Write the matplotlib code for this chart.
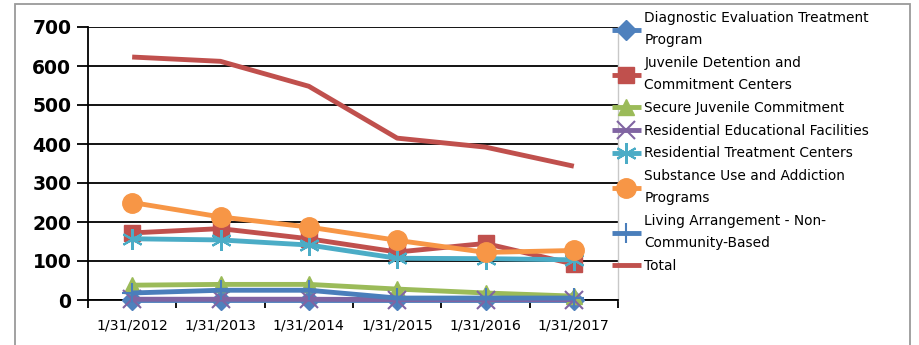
import matplotlib
matplotlib.use("Agg")
import matplotlib.pyplot as plt
from matplotlib.patches import Rectangle
import numpy as np

dates = ["1/31/2012", "1/31/2013", "1/31/2014", "1/31/2015", "1/31/2016", "1/31/2017"]

diagnostic_eval = [0, 0, 0, 0, 0, 0]
juvenile_detention = [172, 183, 157, 123, 145, 92]
secure_juvenile = [38, 40, 40, 28, 18, 10]
residential_educational = [2, 2, 2, 1, 1, 1]
residential_treatment = [157, 154, 141, 107, 106, 103]
substance_use = [250, 213, 187, 153, 122, 127]
living_arrangement = [18, 25, 25, 5, 5, 5]
total = [623, 612, 548, 415, 392, 343]

labels = [
    "Diagnostic Evaluation Treatment\nProgram",
    "Juvenile Detention and\nCommitment Centers",
    "Secure Juvenile Commitment",
    "Residential Educational Facilities",
    "Residential Treatment Centers",
    "Substance Use and Addiction\nPrograms",
    "Living Arrangement - Non-\nCommunity-Based",
    "Total",
]
series = [diagnostic_eval, juvenile_detention, secure_juvenile, residential_educational,
          residential_treatment, substance_use, living_arrangement, total]
colors = ["#4f81bd", "#c0504d", "#9bbb59", "#8064a2", "#4bacc6", "#f79646", "#4a7ebb", "#c0504d"]
markers = ["D", "s", "^", "x", (6, 2, 0), "o", "+", None]
msizes = [10, 12, 12, 13, 15, 14, 15, 0]

fig = plt.figure(figsize=(9.19, 3.45), dpi=100)
fig.patch.set_facecolor("white")

# outer chart border (open at the bottom edge)
fig.add_artist(Rectangle((15 / 919, -0.2), (910 - 15) / 919, 1.2 - 4 / 345,
                         transform=fig.transFigure, fill=False,
                         edgecolor="#9a9a9a", linewidth=1.3))

ax = fig.add_axes([88 / 919, 1 - 300 / 345, (618 - 88) / 919, (300 - 27) / 345])
x = np.arange(len(dates))

handles = []
for vals, lab, c, m, ms in zip(series, labels, colors, markers, msizes):
    ln, = ax.plot(x, vals, color=c, linewidth=3.5, marker=m, markersize=ms,
                  markeredgewidth=1.5 if m in ("x", "+", (6, 2, 0)) else 1.0,
                  markeredgecolor=c, markerfacecolor=c, solid_capstyle="butt",
                  zorder=3, clip_on=False)
    handles.append(ln)

ax.set_xlim(-0.5, len(dates) - 0.5)
ax.set_ylim(0, 700)
ax.set_yticks(np.arange(0, 701, 100))
ax.grid(axis="y", color="black", linewidth=1.3)
ax.set_axisbelow(True)

ax.set_xticks(x)
ax.set_xticklabels(dates, fontsize=10.2, family="DejaVu Sans")
ax.set_xticks(np.arange(-0.5, len(dates), 1.0), minor=True)
ax.tick_params(axis="x", which="major", length=0, pad=13)
ax.tick_params(axis="x", which="minor", length=6, width=1.3, color="black", direction="out")
ax.tick_params(axis="y", length=8, width=1.3, direction="out", pad=4, labelsize=13.5)
for t in ax.get_yticklabels():
    t.set_fontweight("bold")
    t.set_family("DejaVu Sans")

for s in ["left", "bottom"]:
    ax.spines[s].set_color("black")
    ax.spines[s].set_linewidth(1.3)
ax.spines["top"].set_visible(False)
ax.spines["right"].set_color("#c8c8c8")
ax.spines["right"].set_linewidth(1.0)

leg = fig.legend(handles, labels, loc="upper left", bbox_to_anchor=(612 / 919, 1 - 11 / 345),
                 frameon=False, handlelength=2.1, handletextpad=0.25,
                 borderpad=0, borderaxespad=0, labelspacing=0.64,
                 prop={"family": "DejaVu Sans", "size": 9.9})
for t in leg.get_texts():
    t.set_linespacing(1.74)

fig.savefig("out.png", dpi=100, facecolor="white")
